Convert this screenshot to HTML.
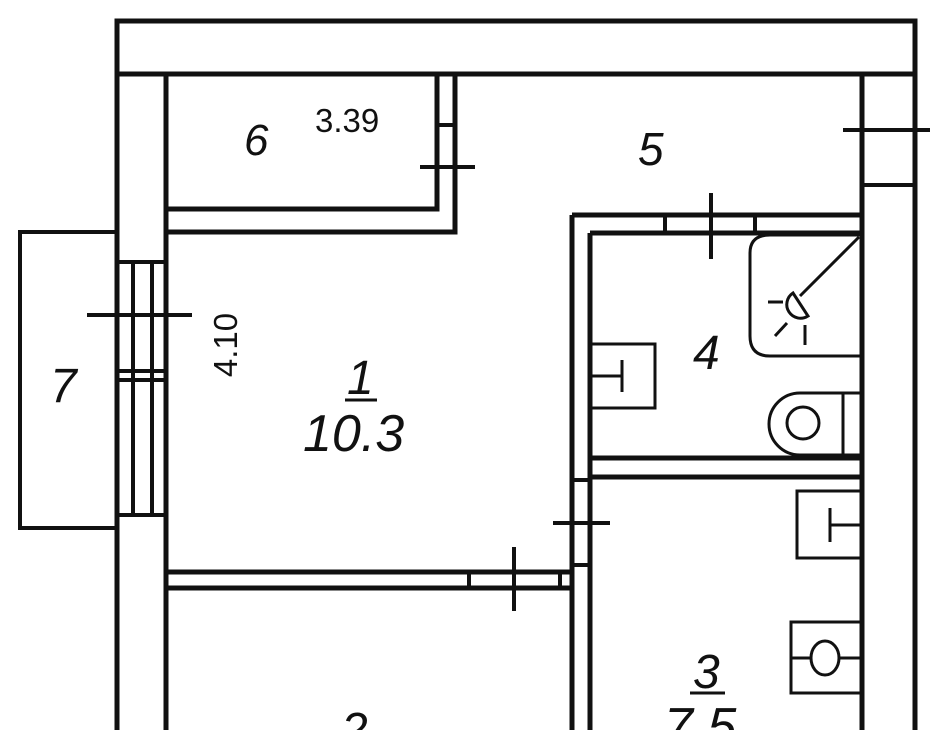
<!DOCTYPE html>
<html><head><meta charset="utf-8"><style>
html,body{margin:0;padding:0;background:#fff}
svg{display:block}
text{font-family:"Liberation Sans",sans-serif;fill:#111}
</style></head><body>
<svg width="936" height="730" viewBox="0 0 936 730" xmlns="http://www.w3.org/2000/svg">
<g stroke="#111" stroke-width="5" fill="none">
<path d="M117 730 V21 H915 V74 H117"/>
<path d="M862 74 V730 M915 74 V730"/>
<path d="M862 185 H915" stroke-width="4"/>
<path d="M166 74 V730"/>
<path d="M166 209 H437 V74 M166 232 H455 V74"/>
<path d="M437 125 H455" stroke-width="4"/>
<path d="M117 232 H20 V528 H117" stroke-width="4"/>
<path d="M117 262 H166 M117 515 H166 M117 371 H166 M117 380 H166" stroke-width="4"/>
<path d="M133 262 V515 M152 262 V515" stroke-width="4"/>
<path d="M166 572 H572 M166 588 H572"/>
<path d="M469 572 V588 M560 572 V588" stroke-width="4"/>
<path d="M572 215 V730 M590 233 V730"/>
<path d="M572 480 H590 M572 565 H590" stroke-width="4"/>
<path d="M572 215 H862 M590 233 H862"/>
<path d="M665 215 V233 M755 215 V233" stroke-width="4"/>
<path d="M590 458 H862 M590 477 H862"/>
</g>
<g stroke="#111" stroke-width="4" fill="none">
<path d="M420 167 H475"/>
<path d="M843 130 H930"/>
<path d="M87 315 H192"/>
<path d="M711 193 V259"/>
<path d="M553 523 H610"/>
<path d="M514 547 V611"/>
</g>
<g stroke="#111" stroke-width="3" fill="none">
<path d="M862 356 H770 Q750 356 750 336 V253 Q750 235 770 235 H862"/>
<path d="M859 237 L800 296"/>
<path d="M793 293 A12 12 0 0 0 808 316 Z"/>
<path d="M768 302 H783 M775 336 L787 323 M805 325 V345"/>
<rect x="590" y="344" width="65" height="64"/>
<path d="M592 376 H622 M622 360 V392"/>
<path d="M862 393 H800 A31 31 0 0 0 800 455 H862 M843 393 V455"/>
<circle cx="803" cy="423" r="16"/>
<rect x="797" y="491" width="65" height="67"/>
<path d="M830 508 V542 M830 525 H862"/>
<rect x="791" y="622" width="71" height="71"/>
<path d="M791 658 H862"/>
<ellipse cx="825" cy="658" rx="14" ry="17" fill="#fff"/>
<path d="M345 400 H377 M690 693 H725" stroke-width="3"/>
</g>
<g font-style="italic">
<text x="244" y="155" font-size="44">6</text>
<text x="638" y="165" font-size="46">5</text>
<text x="50" y="402" font-size="48">7</text>
<text x="347" y="394" font-size="48">1</text>
<text x="303" y="451" font-size="52">10.3</text>
<text x="693" y="369" font-size="48">4</text>
<text x="693" y="688" font-size="48">3</text>
<text x="664" y="744" font-size="52">7.5</text>
<text x="341" y="746" font-size="48">2</text>
</g>
<text x="315" y="132" font-size="33">3.39</text>
<text transform="translate(237,345) rotate(-90)" text-anchor="middle" font-size="33">4.10</text>
</svg>
</body></html>
